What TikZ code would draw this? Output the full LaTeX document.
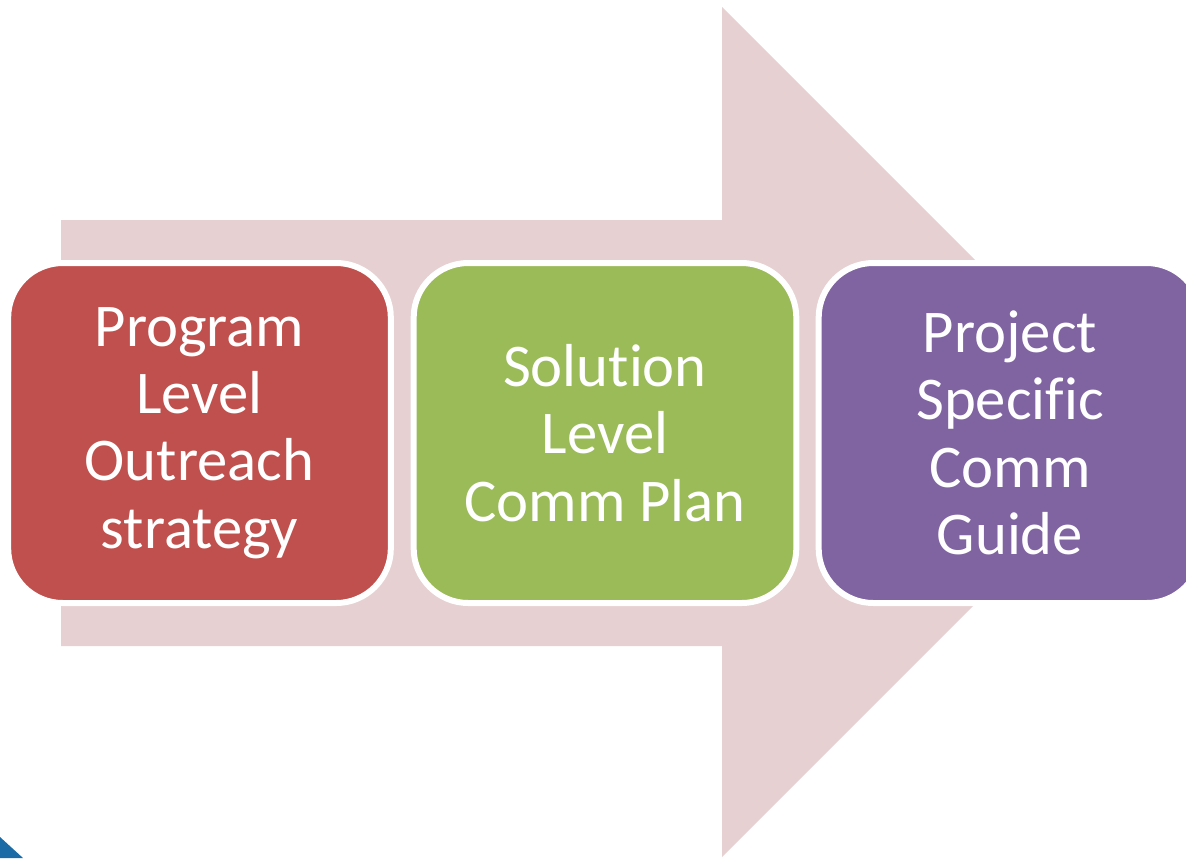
\documentclass[tikz,border=0pt]{standalone}
\usepackage{fontspec}
\setmainfont{Carlito}[Ligatures={NoCommon}]
\definecolor{arrowpink}{HTML}{E7D0D1}
\definecolor{stagered}{HTML}{C0504D}
\definecolor{stagegreen}{HTML}{9BBB59}
\definecolor{stagepurple}{HTML}{8064A2}
\definecolor{cornerblue}{HTML}{1B6BA6}
\begin{document}
\begin{tikzpicture}[x=0.75pt,y=-0.75pt,
  stage/.style={draw=white, line width=4.5pt, rounded corners=41pt,
    minimum width=287pt, minimum height=255pt, inner sep=0pt,
    text=white, align=center, font=\fontsize{45.5}{50.5}\selectfont}]
  \useasboundingbox (0,0) rectangle (1186,858);
  \clip (0,0) rectangle (1186,858);
  % background block arrow
  \fill[arrowpink] (61,220) -- (722,220) -- (722,7) -- (1147,432)
    -- (722,857) -- (722,646) -- (61,646) -- cycle;
  % stages
  \node[stage, fill=stagered] (program) at (199.5,433)
    {Program\\Level\\Outreach\\strategy};
  \node[stage, fill=stagegreen] (solution) at (605,433)
    {Solution\\Level\\Comm Plan};
  \node[stage, fill=stagepurple] (project) at (1010,433)
    {Project\\Specific\\Comm\\Guide};
  % corner accent
  \fill[cornerblue] (0,837) -- (23,858) -- (0,858) -- cycle;
\end{tikzpicture}
\end{document}
